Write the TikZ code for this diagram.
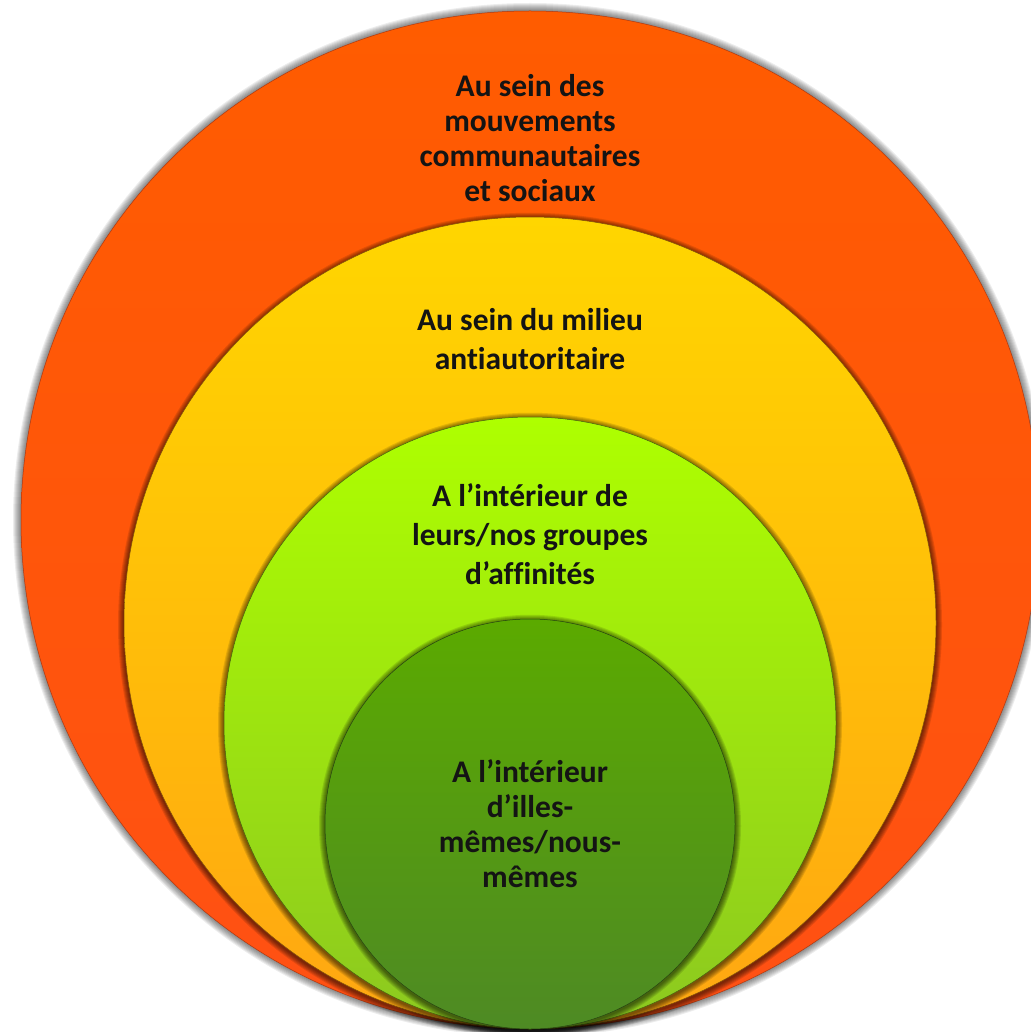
\documentclass[tikz,border=0pt]{standalone}
\usepackage{fontspec}
\setmainfont{Carlito}[Ligatures=NoCommon]
\usetikzlibrary{positioning,calc}

\definecolor{orangetop}{HTML}{FF5C00}
\definecolor{orangebot}{HTML}{FF5014}
\definecolor{yellowtop}{HTML}{FFD600}
\definecolor{yellowbot}{HTML}{FFA612}
\definecolor{limetop}{HTML}{AEFF00}
\definecolor{limebot}{HTML}{8CC820}
\definecolor{leaftop}{HTML}{5BAA00}
\definecolor{leafbot}{HTML}{4E8A24}

\begin{document}
\begin{tikzpicture}[x=1pt,y=-1pt,
  ring/.style={circle,inner sep=0pt,line width=0.5pt},
  halo/.style={black,opacity=#1},
  zone text/.style={align=center,inner sep=0pt,font=\bfseries\fontsize{31.5}{35}\selectfont,text=black!92}]
  \useasboundingbox (0,0) rectangle (1030,1032);
  % soft grey shadow round the outer ring
  \foreach \k in {1,...,8}
    \fill[halo=0.07] (530,520) circle[radius=509+\k];
  \node[ring,minimum size=1018pt,top color=orangetop,bottom color=orangebot,draw=orangebot!70!black]
    (outerring) at (530,520) {};
  % nested rings, all touching at the bottom
  \foreach \ringname/\size/\topc/\botc in {milieuring/812/yellowtop/yellowbot,
      groupring/612/limetop/limebot, selfring/410/leaftop/leafbot}{
    \foreach \k in {1,...,6}
      \fill[halo=0.11] ($(outerring.south)+(0,-\size/2+1.5)$) circle[radius=\size/2+\k];
    \node[ring,anchor=south,minimum size=\size pt,top color=\topc,bottom color=\botc,draw=\botc!50!black]
      (\ringname) at (outerring.south) {};
  }
  % labels
  \node[zone text] (outertext) at (530,138) {Au sein des\\mouvements\\communautaires\\et sociaux};
  \node[zone text,font=\bfseries\fontsize{31.5}{39}\selectfont] (milieutext) at (530,339) {Au sein du milieu\\antiautoritaire};
  \node[zone text,font=\bfseries\fontsize{31.5}{39}\selectfont] (grouptext) at (530,534) {A l’intérieur de\\leurs/nos groupes\\d’affinités};
  \node[zone text] (selftext) at (530,824) {A l’intérieur\\d’illes-\\mêmes/nous-\\mêmes};
\end{tikzpicture}
\end{document}
